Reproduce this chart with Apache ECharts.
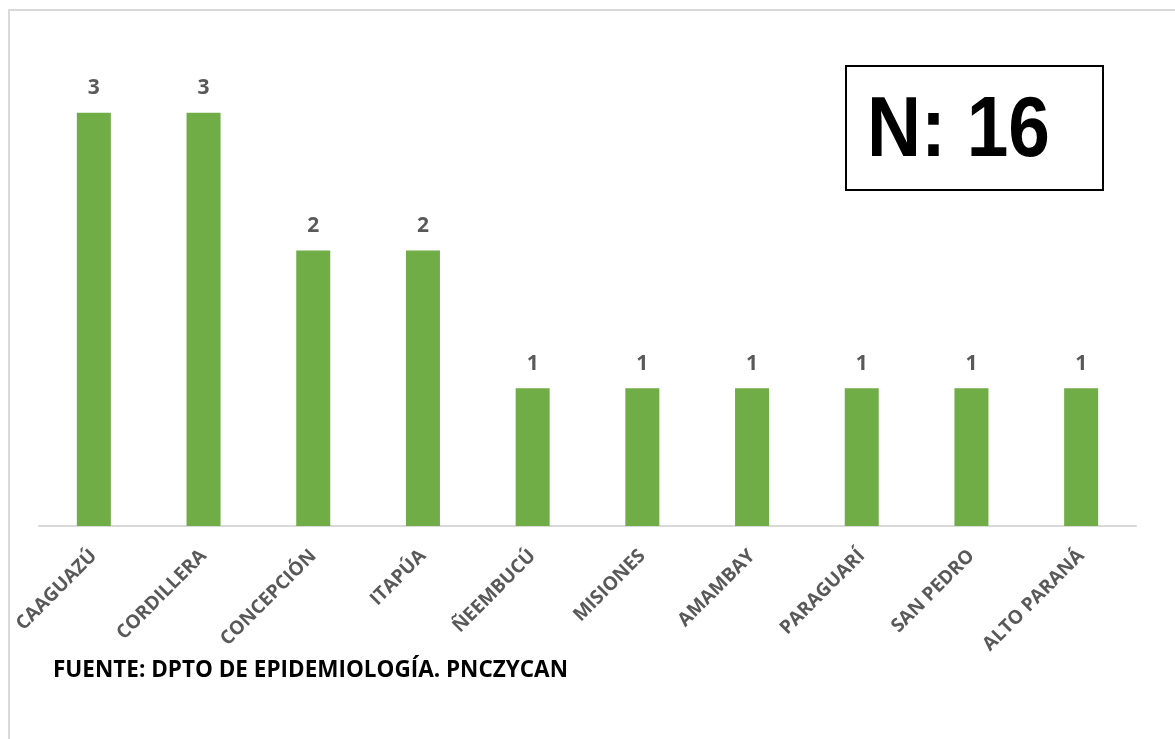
<!DOCTYPE html>
<html><head><meta charset="utf-8">
<script src="https://cdn.jsdelivr.net/npm/echarts@6/dist/echarts.min.js"></script>
<style>html,body{margin:0;padding:0;background:#fff}#c{width:1175px;height:739px}</style>
</head><body><div id="c"></div>
<script>
const categories = ['CAAGUAZÚ','CORDILLERA','CONCEPCIÓN','ITAPÚA','ÑEEMBUCÚ','MISIONES','AMAMBAY','PARAGUARÍ','SAN PEDRO','ALTO PARANÁ'];
const values = [3,3,2,2,1,1,1,1,1,1];
const totalLabel = 'N: 16';
const sourceLabel = 'FUENTE: DPTO DE EPIDEMIOLOGÍA. PNCZYCAN';

const chart = echarts.init(document.getElementById('c'));
chart.setOption({
  animation:false,
  backgroundColor:'#fff',
  grid:{left:39,right:39,top:44,bottom:213,containLabel:false},
  xAxis:{type:'category',data:categories,
    axisLine:{lineStyle:{color:'#d9d9d9',width:2}},
    axisTick:{show:false},
    axisLabel:{rotate:45,interval:0,color:'#595959',fontWeight:'bold',fontSize:19,fontFamily:'Open Sans',margin:27}},
  yAxis:{type:'value',min:0,max:3.5,show:false,splitLine:{show:false}},
  series:[{type:'bar',data:values,barWidth:'31%',itemStyle:{color:'#70ad47'},
    label:{show:true,position:'top',distance:14,color:'#595959',fontWeight:'bold',fontSize:21,fontFamily:'Open Sans'}}],
  graphic:[
    {type:'rect',shape:{x:9,y:10,width:1170,height:740},style:{fill:'none',stroke:'#d9d9d9',lineWidth:2},silent:true},
    {type:'rect',shape:{x:846,y:66,width:257,height:124},style:{fill:'#fff',stroke:'#000',lineWidth:2}},
    {type:'text',x:867,y:89,scaleX:0.87,style:{text:totalLabel,font:'bold 86px "Liberation Sans", Arial',fill:'#000'}},
    {type:'text',left:53,top:659,style:{text:sourceLabel,font:'bold 22.5px "Open Sans"',fill:'#000'}}
  ]
});
</script></body></html>
